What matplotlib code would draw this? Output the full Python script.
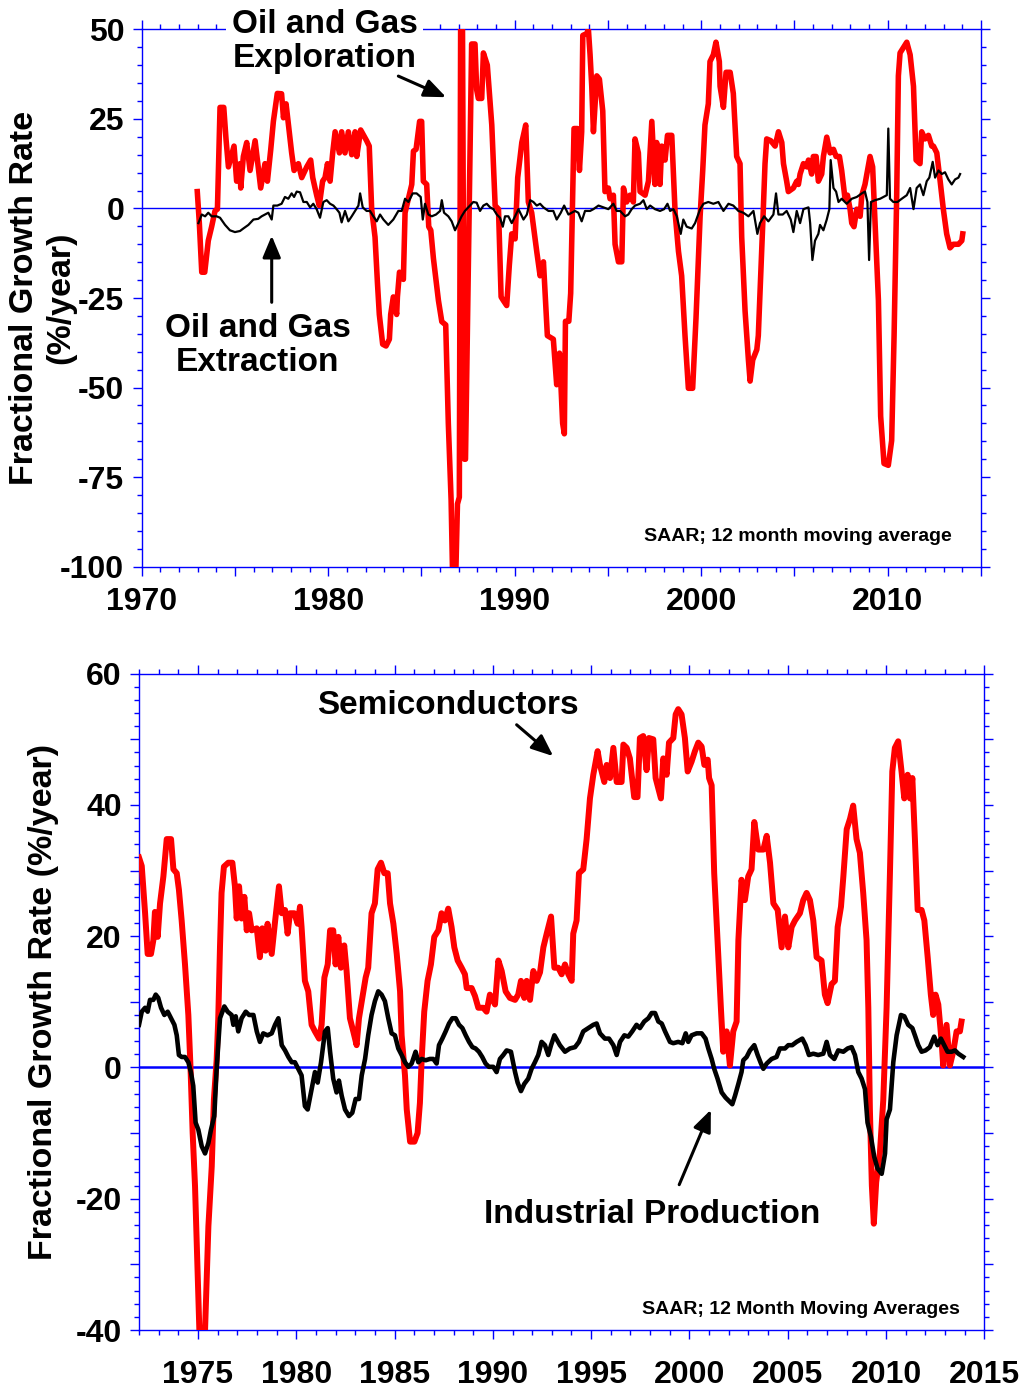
import matplotlib
matplotlib.use('Agg')
import matplotlib.pyplot as plt
from matplotlib.ticker import MultipleLocator, FuncFormatter

plt.rcParams['font.family'] = ['Liberation Sans', 'DejaVu Sans']
plt.rcParams['font.weight'] = 'bold'
plt.rcParams['axes.unicode_minus'] = False

# ---------------- Top panel data: Oil and Gas Exploration (red) ----------------
explor_year = [
    1972.98, 1973.09, 1973.22, 1973.38, 1973.57, 1973.75, 1973.93, 1974.06, 1974.11, 1974.20,
    1974.40, 1974.52, 1974.65, 1974.95, 1975.09, 1975.27, 1975.31, 1975.45, 1975.63, 1975.81,
    1976.08, 1976.38, 1976.61, 1976.74, 1976.92, 1977.06, 1977.27, 1977.50, 1977.60, 1977.74,
    1978.04, 1978.17, 1978.40, 1978.58, 1978.85, 1979.06, 1979.17, 1979.38, 1979.52, 1979.70,
    1979.83, 1979.96, 1980.10, 1980.24, 1980.37, 1980.60, 1980.72, 1980.90, 1981.08, 1981.26,
    1981.44, 1981.53, 1981.74, 1982.06, 1982.20, 1982.33, 1982.51, 1982.64, 1982.74, 1982.92,
    1983.10, 1983.28, 1983.35, 1983.49, 1983.67, 1983.71, 1983.82, 1984.03, 1984.12, 1984.30,
    1984.48, 1984.57, 1984.71, 1984.90, 1985.01, 1985.10, 1985.28, 1985.39, 1985.50, 1985.64,
    1985.91, 1986.09, 1986.30, 1986.44, 1986.59, 1986.66, 1986.85, 1986.93, 1987.03, 1987.10,
    1987.20, 1987.30, 1987.36, 1987.69, 1987.87, 1987.96, 1988.05, 1988.23, 1988.32, 1988.53,
    1988.77, 1988.95, 1989.13, 1989.27, 1989.39, 1989.57, 1989.71, 1989.84, 1990.02, 1990.16,
    1990.38, 1990.59, 1990.73, 1990.91, 1991.18, 1991.36, 1991.54, 1991.75, 1992.07, 1992.25,
    1992.40, 1992.57, 1992.66, 1992.72, 1992.90, 1993.00, 1993.18, 1993.36, 1993.47, 1993.59,
    1993.65, 1993.86, 1993.95, 1994.04, 1994.13, 1994.22, 1994.40, 1994.54, 1994.72, 1994.84,
    1995.02, 1995.11, 1995.29, 1995.38, 1995.56, 1995.74, 1995.83, 1996.00, 1996.18, 1996.36,
    1996.45, 1996.63, 1996.72, 1996.99, 1997.17, 1997.35, 1997.52, 1997.61, 1997.79, 1997.88,
    1998.06, 1998.19, 1998.42, 1998.60, 1998.78, 1998.95, 1999.13, 1999.31, 1999.54, 1999.72,
    1999.94, 2000.08, 2000.20, 2000.38, 2000.47, 2000.65, 2000.79, 2000.97, 2001.01, 2001.19,
    2001.33, 2001.55, 2001.72, 2001.90, 2002.08, 2002.17, 2002.35, 2002.53, 2002.62, 2002.76,
    2002.98, 2003.06, 2003.19, 2003.30, 2003.42, 2003.51, 2003.73, 2003.96, 2004.14, 2004.32,
    2004.41, 2004.58, 2004.67, 2004.94, 2005.12, 2005.21, 2005.30, 2005.48, 2005.66, 2005.75,
    2005.92, 2006.01, 2006.16, 2006.28, 2006.46, 2006.55, 2006.73, 2006.91, 2007.09, 2007.23,
    2007.41, 2007.53, 2007.71, 2007.84, 2007.98, 2008.07, 2008.19, 2008.34, 2008.52, 2008.61,
    2008.78, 2009.05, 2009.19, 2009.32, 2009.50, 2009.62, 2009.80, 2010.03, 2010.21, 2010.34,
    2010.48, 2010.57, 2010.66, 2010.84, 2011.02, 2011.20, 2011.38, 2011.52, 2011.73, 2011.82,
    2012.00, 2012.18, 2012.36, 2012.45, 2012.63, 2012.81, 2012.98, 2013.16, 2013.34, 2013.52,
    2013.79, 2013.97, 2014.02]
explor_val = [
    4.7, -4.1, -17.8, -17.8, -9.0, -5.1, -0.7, -0.2, 9.6, 28.2,
    28.2, 19.4, 11.6, 17.4, 7.6, 12.5, 5.7, 14.5, 18.4, 10.6,
    18.9, 5.7, 12.5, 7.6, 16.5, 24.3, 32.1, 32.0, 25.3, 29.2,
    15.5, 10.6, 12.5, 8.6, 11.6, 13.5, 8.6, 3.7, 0.8, 7.6,
    8.6, 12.5, 7.6, 15.5, 21.4, 15.5, 21.4, 15.5, 21.4, 15.0,
    21.4, 14.5, 21.9, 18.9, 17.4, -0.2, -8.0, -20.8, -29.6, -37.9,
    -38.4, -36.5, -29.6, -24.7, -29.6, -24.7, -17.8, -19.8, -1.2, 2.7,
    6.7, 16.0, 16.5, 24.3, 24.3, 7.6, 6.7, -5.1, -6.1, -13.9,
    -25.7, -31.6, -32.5, -60.0, -81.5, -100.0, -100.0, -82.5, -80.6, 50.0,
    50.0, -70.0, -70.0, 45.9, 45.9, 33.1, 30.7, 30.7, 43.4, 40.0,
    23.3, 0.8, -0.2, -24.7, -25.7, -27.1, -15.9, -7.1, -8.5, 8.6,
    18.4, 23.3, 1.8, -1.2, -12.0, -18.8, -14.9, -35.5, -36.5, -49.2,
    -40.4, -60.0, -62.9, -31.5, -31.5, -23.7, 22.3, 22.3, 10.6, 21.4,
    48.3, 48.8, 50.0, 42.9, 34.1, 21.4, 37.0, 36.1, 27.2, 4.7,
    5.7, 2.7, 3.7, -10.0, -14.9, -14.9, 5.7, 1.8, 3.7, 1.8,
    19.4, 15.5, 4.7, 3.7, 7.6, 24.3, 6.7, 18.4, 6.7, 17.4,
    13.5, 20.4, 20.4, -1.2, -12.0, -18.8, -35.5, -50.2, -50.2, -30.6,
    -2.2, 10.6, 23.3, 29.2, 41.0, 42.9, 46.4, 41.0, 34.1, 28.2,
    38.0, 38.0, 32.1, 14.5, 12.5, -8.0, -28.6, -42.3, -48.2, -42.3,
    -39.4, -35.5, -18.8, -4.1, 12.5, 19.4, 18.9, 17.4, 21.4, 18.4,
    12.5, 7.6, 4.7, 5.7, 7.6, 6.7, 9.6, 12.5, 11.6, 13.5,
    9.6, 14.5, 14.5, 7.6, 9.6, 14.5, 19.9, 15.5, 16.5, 14.5,
    14.5, 10.6, 2.7, 3.7, -0.2, -4.1, -5.1, -0.2, -2.2, 3.7,
    6.7, 14.5, 11.6, -4.1, -25.7, -58.0, -71.2, -71.7, -64.8, -35.5,
    3.7, 37.0, 43.4, 44.9, 46.4, 42.9, 34.1, 13.5, 12.5, 21.4,
    19.4, 20.4, 17.4, 17.4, 15.5, 7.6, -0.2, -7.1, -11.0, -10.0,
    -10.0, -9.0, -7.1]

# ---------------- Top panel data: Oil and Gas Extraction (black) ----------------
extract_year = [
    1973.04, 1973.22, 1973.40, 1973.57, 1973.75, 1974.02, 1974.20, 1974.47, 1974.73, 1975.00,
    1975.27, 1975.45, 1975.72, 1975.99, 1976.25, 1976.43, 1976.61, 1976.79, 1976.97, 1977.06,
    1977.27, 1977.50, 1977.68, 1977.86, 1978.04, 1978.17, 1978.31, 1978.49, 1978.67, 1978.85,
    1979.03, 1979.20, 1979.38, 1979.56, 1979.74, 1979.92, 1980.10, 1980.28, 1980.45, 1980.60,
    1980.72, 1980.90, 1981.08, 1981.26, 1981.44, 1981.62, 1981.71, 1981.85, 1982.06, 1982.24,
    1982.42, 1982.60, 1982.78, 1982.96, 1983.22, 1983.49, 1983.76, 1983.94, 1984.12, 1984.30,
    1984.53, 1984.74, 1984.96, 1985.07, 1985.19, 1985.37, 1985.55, 1985.78, 1986.00, 1986.09,
    1986.21, 1986.44, 1986.62, 1986.80, 1986.98, 1987.15, 1987.33, 1987.51, 1987.78, 1987.96,
    1988.14, 1988.32, 1988.50, 1988.68, 1988.86, 1989.04, 1989.21, 1989.36, 1989.48, 1989.66,
    1989.84, 1990.02, 1990.20, 1990.47, 1990.65, 1990.83, 1991.00, 1991.18, 1991.36, 1991.54,
    1991.81, 1992.07, 1992.25, 1992.47, 1992.65, 1992.88, 1993.06, 1993.23, 1993.41, 1993.59,
    1993.77, 1994.04, 1994.22, 1994.49, 1994.75, 1995.02, 1995.29, 1995.47, 1995.65, 1995.92,
    1996.09, 1996.27, 1996.45, 1996.72, 1996.90, 1997.08, 1997.26, 1997.52, 1997.79, 1998.01,
    1998.19, 1998.33, 1998.51, 1998.69, 1998.90, 1999.04, 1999.22, 1999.49, 1999.67, 1999.94,
    2000.12, 2000.38, 2000.65, 2000.92, 2001.19, 2001.46, 2001.72, 2001.99, 2002.26, 2002.53,
    2002.80, 2003.01, 2003.15, 2003.37, 2003.60, 2003.87, 2004.01, 2004.14, 2004.37, 2004.58,
    2004.80, 2004.94, 2005.12, 2005.30, 2005.48, 2005.75, 2005.84, 2005.96, 2006.10, 2006.28,
    2006.37, 2006.55, 2006.73, 2006.87, 2006.94, 2007.09, 2007.23, 2007.36, 2007.53, 2007.80,
    2008.07, 2008.34, 2008.61, 2008.78, 2008.91, 2009.00, 2009.10, 2009.32, 2009.59, 2009.77,
    2009.95, 2010.03, 2010.12, 2010.30, 2010.52, 2010.75, 2011.02, 2011.20, 2011.38, 2011.55,
    2011.73, 2011.91, 2012.09, 2012.23, 2012.41, 2012.54, 2012.72, 2012.90, 2013.07, 2013.25,
    2013.43, 2013.61, 2013.79, 2013.88]
extract_val = [
    -4.1, -1.7, -2.2, -1.2, -2.2, -2.2, -2.6, -4.6, -6.1, -6.6,
    -6.3, -5.6, -4.6, -3.1, -2.9, -2.2, -1.7, -1.2, -3.1, 0.8,
    0.8, 1.3, 3.2, 2.7, 4.2, 3.2, 4.7, 4.5, 1.8, 1.8,
    0.3, 1.3, -0.2, -2.6, 1.8, 2.3, 1.3, 0.8, -0.2, -1.2,
    -3.9, -0.7, -3.6, -2.2, -0.7, 0.8, 4.2, 0.3, -0.7, -0.7,
    -2.2, -3.6, -1.7, -3.1, -4.6, -3.1, -0.7, -0.7, 2.7, 1.8,
    4.2, 4.2, 3.2, -3.1, 1.3, -1.7, -2.2, -1.7, -0.7, 2.3,
    -1.2, -2.2, -3.6, -6.1, -4.1, -2.2, -0.7, 0.3, 1.8, 1.6,
    -0.7, 0.8, 1.3, 0.3, -0.2, -1.7, -2.6, -5.1, -2.2, -2.2,
    -4.1, -2.2, -0.2, -3.1, -1.7, 2.3, 1.8, 0.8, 1.3, 0.3,
    -0.7, -0.7, -3.1, -1.2, 0.8, -1.7, -1.2, -0.7, -1.2, -3.6,
    -0.7, -0.7, -0.2, 0.8, 0.3, -0.2, 1.3, -0.7, -0.7, -2.2,
    -1.7, -0.2, 0.8, 1.3, 2.3, -0.2, 0.8, -0.2, -0.7, -0.2,
    1.3, -0.7, -0.2, -2.2, -7.1, -3.1, -5.1, -5.6, -4.1, -0.2,
    1.3, 1.8, 1.3, 1.8, -0.7, 1.3, 0.8, -0.7, -1.2, -2.2,
    -0.7, -7.1, -4.1, -2.2, -3.6, -1.7, 4.2, -1.7, -1.7, -0.7,
    -3.1, -6.6, -0.7, -4.1, -0.2, 0.3, -4.1, -14.4, -9.0, -7.1,
    -4.6, -6.1, -3.1, -0.2, 13.5, 5.7, 4.7, 1.8, 2.7, 1.3,
    2.7, 3.2, 4.2, 4.7, 1.8, -14.4, 1.8, 2.3, 2.7, 3.2,
    3.7, 22.3, 2.7, 1.8, 1.8, 2.7, 3.7, 5.7, -0.2, 5.7,
    6.7, 3.7, 7.6, 8.6, 13.0, 8.6, 10.6, 9.6, 10.1, 8.1,
    6.7, 8.1, 8.6, 9.6]

# ---------------- Bottom panel data: Semiconductors (red) ----------------
semi_year = [
    1972.00, 1972.14, 1972.31, 1972.44, 1972.61, 1972.73, 1972.81, 1972.95, 1973.07, 1973.24,
    1973.41, 1973.63, 1973.75, 1973.92, 1974.03, 1974.17, 1974.34, 1974.51, 1974.62, 1974.73,
    1974.85, 1975.07, 1975.36, 1975.53, 1975.70, 1975.81, 1975.95, 1976.03, 1976.12, 1976.20,
    1976.32, 1976.54, 1976.75, 1976.88, 1976.97, 1977.09, 1977.22, 1977.36, 1977.48, 1977.60,
    1977.73, 1977.99, 1978.15, 1978.27, 1978.44, 1978.54, 1978.75, 1978.92, 1979.12, 1979.26,
    1979.43, 1979.56, 1979.68, 1979.90, 1980.07, 1980.19, 1980.27, 1980.44, 1980.61, 1980.78,
    1980.95, 1981.16, 1981.29, 1981.43, 1981.60, 1981.72, 1981.88, 1982.00, 1982.14, 1982.27,
    1982.44, 1982.56, 1982.73, 1982.90, 1983.07, 1983.19, 1983.36, 1983.53, 1983.66, 1983.83,
    1984.00, 1984.14, 1984.31, 1984.48, 1984.65, 1984.77, 1984.94, 1985.11, 1985.28, 1985.36,
    1985.53, 1985.62, 1985.79, 1986.01, 1986.17, 1986.29, 1986.38, 1986.51, 1986.68, 1986.85,
    1987.02, 1987.23, 1987.39, 1987.56, 1987.73, 1987.90, 1988.04, 1988.21, 1988.41, 1988.58,
    1988.67, 1988.92, 1989.09, 1989.26, 1989.51, 1989.68, 1989.85, 1990.11, 1990.28, 1990.45,
    1990.65, 1990.87, 1991.13, 1991.29, 1991.43, 1991.60, 1991.72, 1991.89, 1992.06, 1992.23,
    1992.40, 1992.57, 1992.74, 1992.96, 1993.13, 1993.33, 1993.50, 1993.67, 1993.84, 1994.01,
    1994.09, 1994.26, 1994.38, 1994.60, 1994.77, 1994.94, 1995.11, 1995.33, 1995.45, 1995.67,
    1995.79, 1995.96, 1996.13, 1996.30, 1996.55, 1996.64, 1996.81, 1996.97, 1997.19, 1997.36,
    1997.48, 1997.65, 1997.82, 1997.94, 1998.16, 1998.28, 1998.42, 1998.55, 1998.67, 1998.84,
    1998.96, 1999.18, 1999.30, 1999.43, 1999.60, 1999.77, 1999.91, 2000.11, 2000.28, 2000.45,
    2000.62, 2000.76, 2000.93, 2001.00, 2001.13, 2001.26, 2001.43, 2001.60, 2001.72, 2001.89,
    2002.06, 2002.23, 2002.40, 2002.49, 2002.65, 2002.82, 2002.99, 2003.16, 2003.30, 2003.50,
    2003.76, 2003.93, 2004.10, 2004.27, 2004.49, 2004.69, 2004.86, 2005.03, 2005.20, 2005.37,
    2005.62, 2005.79, 2005.96, 2006.13, 2006.30, 2006.47, 2006.72, 2006.89, 2007.03, 2007.23,
    2007.40, 2007.54, 2007.71, 2007.83, 2008.00, 2008.17, 2008.33, 2008.50, 2008.67, 2008.84,
    2009.01, 2009.10, 2009.18, 2009.28, 2009.38, 2009.50, 2009.69, 2009.86, 2010.03, 2010.20,
    2010.32, 2010.45, 2010.62, 2010.79, 2010.93, 2011.10, 2011.22, 2011.34, 2011.47, 2011.61,
    2011.81, 2011.95, 2012.12, 2012.28, 2012.40, 2012.52, 2012.66, 2012.83, 2012.91, 2013.08,
    2013.25, 2013.42, 2013.59, 2013.76, 2013.84]
semi_val = [
    32.0, 30.7, 23.5, 17.3, 17.3, 19.4, 23.7, 19.9, 25.0, 29.1,
    34.8, 34.8, 30.2, 29.6, 27.1, 22.4, 15.7, 8.0, 0.0, -10.0,
    -18.1, -40.0, -40.0, -24.2, -15.1, -4.9, 1.2, 7.3, 18.4, 26.6,
    30.6, 31.2, 31.2, 27.6, 22.7, 27.6, 22.7, 26.0, 20.9, 23.5,
    20.9, 21.2, 16.8, 21.2, 17.8, 21.9, 17.3, 22.2, 27.6, 23.5,
    24.0, 20.4, 23.5, 23.5, 21.9, 24.5, 21.4, 13.2, 11.6, 6.5,
    5.5, 4.4, 6.5, 13.7, 15.7, 20.9, 20.9, 15.7, 19.9, 15.2,
    18.6, 14.7, 7.5, 5.5, 3.4, 7.5, 10.6, 13.7, 15.2, 23.5,
    25.0, 30.2, 31.2, 29.6, 29.6, 25.0, 21.9, 17.3, 11.6, 4.9,
    -1.2, -6.4, -11.3, -11.3, -10.0, -5.4, 1.3, 8.5, 13.2, 15.7,
    19.9, 20.9, 23.5, 22.4, 24.2, 21.4, 18.3, 16.3, 15.2, 14.2,
    12.1, 12.1, 10.9, 9.1, 9.1, 8.5, 11.1, 9.6, 16.3, 14.7,
    11.6, 10.6, 10.3, 11.1, 13.2, 10.6, 13.2, 10.3, 14.7, 13.2,
    14.5, 18.3, 20.4, 23.0, 15.2, 15.2, 14.2, 15.7, 14.2, 13.2,
    20.4, 22.4, 29.6, 30.2, 34.8, 41.0, 44.6, 48.2, 46.1, 43.5,
    46.1, 44.1, 48.7, 43.5, 43.5, 49.2, 48.7, 47.1, 41.2, 41.2,
    50.2, 50.5, 45.3, 50.2, 50.0, 44.1, 42.5, 41.0, 47.1, 44.6,
    49.5, 50.2, 53.8, 54.6, 53.8, 50.2, 45.1, 46.6, 48.2, 49.5,
    48.9, 46.1, 46.9, 44.1, 43.0, 29.6, 19.4, 9.1, 2.4, 5.5,
    0.3, 5.5, 7.0, 19.4, 28.6, 25.5, 29.1, 30.2, 37.4, 33.2,
    33.2, 35.3, 31.2, 25.0, 24.0, 18.3, 23.0, 18.3, 21.4, 22.4,
    23.5, 25.5, 26.6, 25.5, 22.4, 16.8, 16.3, 11.1, 9.8, 12.7,
    13.2, 21.4, 24.5, 29.1, 36.3, 37.9, 39.9, 34.8, 32.7, 26.6,
    19.4, 9.1, -6.4, -18.0, -23.8, -17.5, -13.0, -5.0, 9.1, 29.6,
    45.1, 48.7, 49.7, 45.1, 41.0, 44.6, 41.0, 44.1, 34.8, 24.0,
    24.0, 22.4, 16.8, 11.1, 8.0, 11.1, 9.6, 3.9, 0.3, 6.5,
    0.3, 2.4, 5.5, 5.5, 7.0]

# ---------------- Bottom panel data: Industrial Production (black) ----------------
ip_year = [
    1972.00, 1972.14, 1972.31, 1972.44, 1972.56, 1972.73, 1972.85, 1972.98, 1973.12, 1973.29,
    1973.46, 1973.63, 1973.80, 1973.92, 1974.03, 1974.17, 1974.34, 1974.51, 1974.64, 1974.76,
    1974.88, 1975.02, 1975.19, 1975.36, 1975.53, 1975.66, 1975.83, 1975.95, 1976.12, 1976.34,
    1976.51, 1976.71, 1976.80, 1976.92, 1977.05, 1977.22, 1977.43, 1977.60, 1977.82, 1977.99,
    1978.15, 1978.32, 1978.54, 1978.75, 1978.92, 1979.09, 1979.26, 1979.43, 1979.60, 1979.77,
    1979.93, 1980.10, 1980.27, 1980.44, 1980.58, 1980.78, 1980.95, 1981.09, 1981.26, 1981.46,
    1981.60, 1981.72, 1981.88, 1982.05, 1982.17, 1982.31, 1982.48, 1982.68, 1982.85, 1983.02,
    1983.19, 1983.33, 1983.50, 1983.66, 1983.83, 1984.00, 1984.17, 1984.34, 1984.51, 1984.68,
    1984.85, 1985.02, 1985.19, 1985.36, 1985.53, 1985.70, 1985.87, 1986.07, 1986.21, 1986.38,
    1986.58, 1986.80, 1986.97, 1987.14, 1987.26, 1987.43, 1987.60, 1987.77, 1987.94, 1988.11,
    1988.28, 1988.45, 1988.62, 1988.79, 1988.96, 1989.12, 1989.29, 1989.46, 1989.63, 1989.80,
    1990.02, 1990.19, 1990.36, 1990.53, 1990.70, 1990.92, 1991.13, 1991.26, 1991.43, 1991.60,
    1991.80, 1991.97, 1992.14, 1992.31, 1992.48, 1992.65, 1992.82, 1992.96, 1993.13, 1993.41,
    1993.67, 1993.92, 1994.18, 1994.38, 1994.60, 1994.86, 1995.11, 1995.28, 1995.45, 1995.70,
    1995.91, 1996.13, 1996.30, 1996.47, 1996.69, 1996.89, 1997.09, 1997.31, 1997.48, 1997.70,
    1997.91, 1998.08, 1998.25, 1998.42, 1998.59, 1998.76, 1999.01, 1999.18, 1999.43, 1999.64,
    1999.81, 1999.94, 2000.11, 2000.37, 2000.62, 2000.82, 2000.96, 2001.13, 2001.26, 2001.43,
    2001.64, 2001.84, 2002.01, 2002.18, 2002.32, 2002.49, 2002.65, 2002.74, 2002.91, 2003.08,
    2003.30, 2003.47, 2003.64, 2003.76, 2003.93, 2004.18, 2004.43, 2004.60, 2004.86, 2005.03,
    2005.23, 2005.45, 2005.74, 2005.91, 2006.08, 2006.30, 2006.55, 2006.81, 2006.98, 2007.15,
    2007.37, 2007.57, 2007.83, 2008.05, 2008.25, 2008.42, 2008.59, 2008.76, 2008.93, 2009.06,
    2009.23, 2009.40, 2009.57, 2009.78, 2009.95, 2010.03, 2010.20, 2010.37, 2010.54, 2010.76,
    2010.93, 2011.13, 2011.34, 2011.47, 2011.64, 2011.81, 2012.01, 2012.23, 2012.45, 2012.62,
    2012.79, 2012.96, 2013.13, 2013.34, 2013.51, 2013.68, 2013.93]
ip_val = [
    6.5, 8.5, 9.1, 8.5, 10.3, 10.3, 11.1, 10.6, 9.1, 8.0,
    8.5, 7.5, 6.5, 4.9, 1.9, 1.6, 1.6, 0.8, -0.7, -2.8,
    -8.4, -9.5, -12.0, -13.1, -11.5, -9.5, -7.4, -0.2, 7.5, 9.3,
    8.5, 8.0, 6.5, 7.8, 5.5, 7.5, 8.5, 8.0, 8.0, 5.5,
    3.9, 5.2, 4.9, 5.2, 6.5, 7.5, 3.4, 2.6, 1.6, 0.8,
    0.8, -0.2, -1.2, -5.9, -6.4, -3.3, -0.7, -2.3, 0.8, 5.5,
    6.0, 2.4, -1.7, -3.8, -2.0, -4.3, -6.4, -7.4, -6.9, -4.8,
    -4.8, -1.2, 1.3, 4.9, 8.0, 10.1, 11.6, 11.1, 10.1, 7.5,
    5.2, 4.9, 2.9, 1.9, 0.8, 0.1, 0.6, 2.4, 0.8, 1.3,
    1.1, 1.3, 1.3, 0.6, 3.4, 4.4, 5.5, 6.7, 7.5, 7.5,
    6.5, 6.0, 4.9, 3.9, 3.1, 2.9, 2.4, 1.6, 0.6, 0.1,
    0.1, -0.7, 1.3, 1.9, 2.6, 2.4, -0.7, -2.3, -3.6, -2.5,
    -1.7, -0.2, 0.8, 1.9, 3.9, 3.4, 1.9, 3.4, 4.9, 3.4,
    2.4, 2.9, 3.1, 3.9, 5.5, 6.0, 6.5, 6.7, 5.2, 4.4,
    4.4, 3.4, 1.9, 3.9, 4.9, 4.7, 5.5, 6.5, 6.0, 7.0,
    7.5, 8.3, 8.3, 7.0, 6.7, 5.5, 3.9, 3.7, 3.9, 3.7,
    5.2, 3.9, 4.9, 5.2, 5.2, 4.4, 2.9, 1.3, -0.2, -1.7,
    -3.8, -4.6, -5.1, -5.6, -4.3, -2.5, -0.7, 1.1, 1.6, 2.6,
    3.4, 1.9, 0.6, -0.2, 0.6, 1.3, 1.6, 2.9, 2.9, 3.4,
    3.4, 3.9, 4.4, 3.4, 1.9, 2.1, 1.9, 2.1, 3.9, 1.9,
    1.3, 2.6, 2.4, 2.9, 3.1, 1.9, -0.7, -1.7, -3.3, -8.4,
    -10.5, -13.6, -15.4, -16.2, -13.1, -7.9, -6.4, 0.8, 4.9, 8.0,
    7.8, 6.5, 6.0, 4.9, 3.4, 2.4, 2.6, 3.1, 4.7, 3.4,
    4.4, 3.4, 2.4, 2.4, 2.6, 2.1, 1.6]

# tick label values
top_xlabels = [1970, 1980, 1990, 2000, 2010]
top_ylabels = [50, 25, 0, -25, -50, -75, -100]
bot_xlabels = [1975, 1980, 1985, 1990, 1995, 2000, 2005, 2010, 2015]
bot_ylabels = [60, 40, 20, 0, -20, -40]

BLUE = '#0000ff'
RED = '#ff0000'
W, H = 1030, 1390

fig = plt.figure(figsize=(W / 100, H / 100), dpi=100)


def fx(x):
    return x / W


def fy(y):
    return 1 - y / H


def style_axes(ax, xlab, ylab, xpad, ypad):
    for s in ax.spines.values():
        s.set_color(BLUE)
        s.set_linewidth(1.0)
    ax.tick_params(which='both', direction='out', top=True, right=True,
                   color=BLUE, width=1.0)
    ax.tick_params(which='major', length=6.5)
    ax.tick_params(which='minor', length=3.6)
    ax.tick_params(axis='x', labelsize=23, pad=xpad)
    ax.tick_params(axis='y', labelsize=23, pad=ypad)
    ax.xaxis.set_major_formatter(FuncFormatter(
        lambda v, p: str(int(round(v))) if int(round(v)) in xlab else ''))
    ax.yaxis.set_major_formatter(FuncFormatter(
        lambda v, p: str(int(round(v))) if int(round(v)) in ylab else ''))
    for lab in ax.get_xticklabels() + ax.get_yticklabels():
        lab.set_fontweight('bold')


# ---------------- Top panel ----------------
ax1 = fig.add_axes([fx(141.7), fy(566.7), (981 - 141.7) / W, (566.7 - 29.3) / H])
ax1.axhline(0, color=BLUE, lw=1.0, zorder=2)
ax1.plot(explor_year, explor_val, color=RED, lw=4.0, zorder=3)
ax1.plot(extract_year, extract_val, color='black', lw=1.6, zorder=4)
ax1.set_xlim(1970, 2015)
ax1.set_ylim(-100, 50)
ax1.xaxis.set_major_locator(MultipleLocator(5))
ax1.xaxis.set_minor_locator(MultipleLocator(1))
ax1.yaxis.set_major_locator(MultipleLocator(25))
ax1.yaxis.set_minor_locator(MultipleLocator(5))
style_axes(ax1, top_xlabels, top_ylabels, 8, 6)

big = dict(fontsize=24, fontweight='bold', ha='center', va='baseline', color='black')
fig.text(fx(324.5), fy(32.7), 'Oil and Gas', zorder=10,
         bbox=dict(facecolor='white', edgecolor='none', pad=4), **big)
fig.text(fx(324.5), fy(66.6), 'Exploration', zorder=11, **big)
fig.text(fx(257.8), fy(337.4), 'Oil and Gas', **big)
fig.text(fx(257.5), fy(370.8), 'Extraction', **big)
fig.text(fx(952), fy(541), 'SAAR; 12 month moving average', fontsize=14,
         fontweight='bold', ha='right', va='baseline')

arrow = dict(arrowstyle='-|>,head_length=0.6,head_width=0.25', color='black',
             lw=2.2, mutation_scale=22, shrinkA=0, shrinkB=0)
ax1.annotate('', xy=(1986.32, 31.05), xytext=(1983.76, 36.94), arrowprops=arrow)
ax1.annotate('', xy=(1976.97, -7.6), xytext=(1976.97, -26.2), arrowprops=arrow)

fig.text(fx(25), fy(298), 'Fractional Growth Rate', rotation=90, fontsize=24.5,
         fontweight='bold', ha='center', va='center')
fig.text(fx(61), fy(298), '(%/year)', rotation=90, fontsize=24.5,
         fontweight='bold', ha='center', va='center')

# ---------------- Bottom panel ----------------
ax2 = fig.add_axes([fx(139), fy(1330), (984.3 - 139) / W, (1330 - 673.7) / H])
ax2.axhline(0, color=BLUE, lw=1.8, zorder=2)
ax2.plot(semi_year, semi_val, color=RED, lw=4.3, zorder=3)
ax2.plot(ip_year, ip_val, color='black', lw=3.3, zorder=4)
ax2.set_xlim(1972, 2015)
ax2.set_ylim(-40, 60)
ax2.xaxis.set_major_locator(MultipleLocator(5))
ax2.xaxis.set_minor_locator(MultipleLocator(1))
ax2.yaxis.set_major_locator(MultipleLocator(10))
ax2.yaxis.set_minor_locator(MultipleLocator(2))
style_axes(ax2, bot_xlabels, bot_ylabels, 15, 6)

fig.text(fx(447.5), fy(714), 'Semiconductors', **big)
fig.text(fx(652), fy(1222.7), 'Industrial Production', **big)
fig.text(fx(960), fy(1314), 'SAAR; 12 Month Moving Averages', fontsize=14,
         fontweight='bold', ha='right', va='baseline')
ax2.annotate('', xy=(1993.07, 47.44), xytext=(1991.21, 52.22), arrowprops=arrow)
ax2.annotate('', xy=(2001.09, -6.44), xytext=(1999.48, -17.86), arrowprops=arrow)

fig.text(fx(44), fy(1002), 'Fractional Growth Rate (%/year)', rotation=90,
         fontsize=24.5, fontweight='bold', ha='center', va='center')

fig.savefig('out.png', dpi=100, facecolor='white')
